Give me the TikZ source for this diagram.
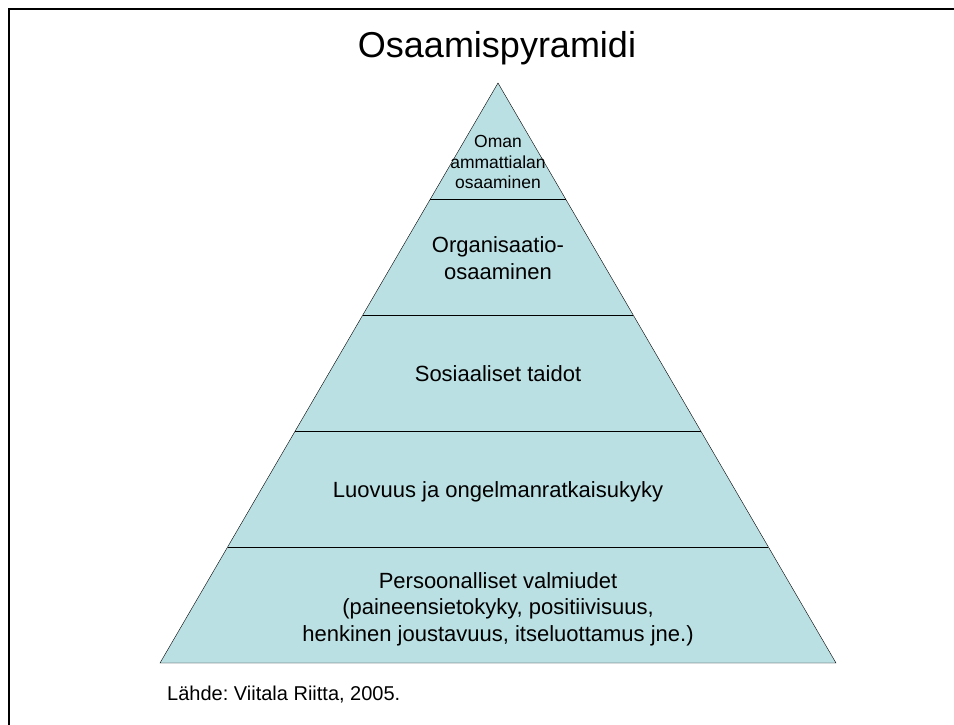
\documentclass[tikz,border=0pt]{standalone}
\usepackage{fontspec}
\setmainfont{Liberation Sans}
\usepackage{xcolor}
\usepackage{tikz}
\usetikzlibrary{calc}
\definecolor{pyrfill}{RGB}{187,224,227}
\frenchspacing

\begin{document}
\begin{tikzpicture}[x=1pt,y=-1pt,thin]
\tikzstyle{every node}=[align=center,inner sep=0pt]
\tikzstyle{level}=[font=\fontsize{22}{26.5}\selectfont]
\tikzstyle{small level}=[font=\fontsize{17.5}{20.5}\selectfont]
\useasboundingbox (0,0) rectangle (954,724);
\draw[line width=2.8pt] (9,9) rectangle (990,760);

% corners of the pyramid
\coordinate (APEX) at (498,83);
\coordinate (BL) at (160,663);
\coordinate (BR) at (836,663);
\filldraw[fill=pyrfill,draw=black] (APEX) -- (BR) -- (BL) -- cycle;

% dividing lines
\coordinate (L1) at ($(APEX)!0.2!(BL)$);
\coordinate (R1) at ($(APEX)!0.2!(BR)$);
\coordinate (L2) at ($(APEX)!0.4!(BL)$);
\coordinate (R2) at ($(APEX)!0.4!(BR)$);
\coordinate (L3) at ($(APEX)!0.6!(BL)$);
\coordinate (R3) at ($(APEX)!0.6!(BR)$);
\coordinate (L4) at ($(APEX)!0.8!(BL)$);
\coordinate (R4) at ($(APEX)!0.8!(BR)$);
\draw (L1) -- (R1)
      (L2) -- (R2)
      (L3) -- (R3)
      (L4) -- (R4);

\node[anchor=base,font=\fontsize{36}{43}\selectfont] (TITLE) at (497,57) {Osaamispyramidi};
\node[small level] (TOP) at (498,162) {Oman\\ammattialan\\osaaminen};
\node[level] (ORG) at (498,258) {Organisaatio-\\osaaminen};
\node[level,anchor=base] (SOC) at (498,381) {Sosiaaliset taidot};
\node[level,anchor=base] (LUOV) at (498,497) {Luovuus ja ongelmanratkaisukyky};
\node[level] (PERS) at (498,609) {Persoonalliset valmiudet\\(paineensietokyky, positiivisuus,\\henkinen joustavuus, itseluottamus jne.)};
\node[anchor=base west,font=\fontsize{20}{24}\selectfont] (SRC) at (167,700) {Lähde: Viitala Riitta, 2005.};
\end{tikzpicture}
\end{document}
